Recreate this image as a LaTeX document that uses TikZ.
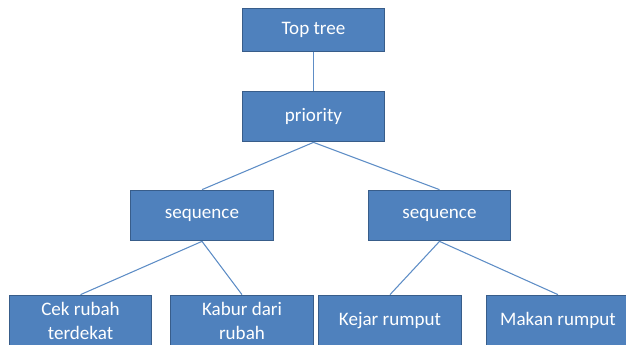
\documentclass[tikz,border=0pt]{standalone}
\usepackage{fontspec}
\setmainfont{Carlito}
\definecolor{boxfill}{HTML}{4F81BD}
\definecolor{boxline}{HTML}{385D8A}
\definecolor{linkline}{HTML}{5E8DC6}
\tikzset{
    treebox/.style = {fill = boxfill, draw = boxline, line width = 0.8pt, text = white,
        minimum width = 107pt, minimum height = 38pt, inner sep = 2pt, align = center,
        font = \fontsize{14.3}{18}\selectfont},
    link/.style = {draw = linkline, line width = 0.8pt}
}
\begin{document}
\begin{tikzpicture}[x = 0.75pt, y = -0.75pt]
    \useasboundingbox (0, 0) rectangle (626, 344);
    \clip (0, 0) rectangle (626, 344);

    \node[treebox, minimum height = 32.5pt] (top) at (313.5, 30){Top tree};
    \node[treebox] (prio) at (313.5, 116.5){priority};

    \node[treebox] (seqL) at (202, 215.5){sequence};
    \node[treebox] (seqR) at (439.5, 215.5){sequence};

    \node[treebox] (cek) at (80.5, 320.5){Cek rubah\\terdekat};
    \node[treebox] (kabur) at (242, 320.5){Kabur dari\\rubah};
    \node[treebox] (kejar) at (390, 320.5){Kejar rumput};
    \node[treebox] (makan) at (558, 320.5){Makan rumput};

    \draw[link] (top.south) -- (prio.north);
    \draw[link] (prio.south) -- (seqL.north) (prio.south) -- (seqR.north);
    \draw[link] (seqL.south) -- (cek.north) (seqL.south) -- (kabur.north);
    \draw[link] (seqR.south) -- (kejar.north) (seqR.south) -- (makan.north);
\end{tikzpicture}
\end{document}
